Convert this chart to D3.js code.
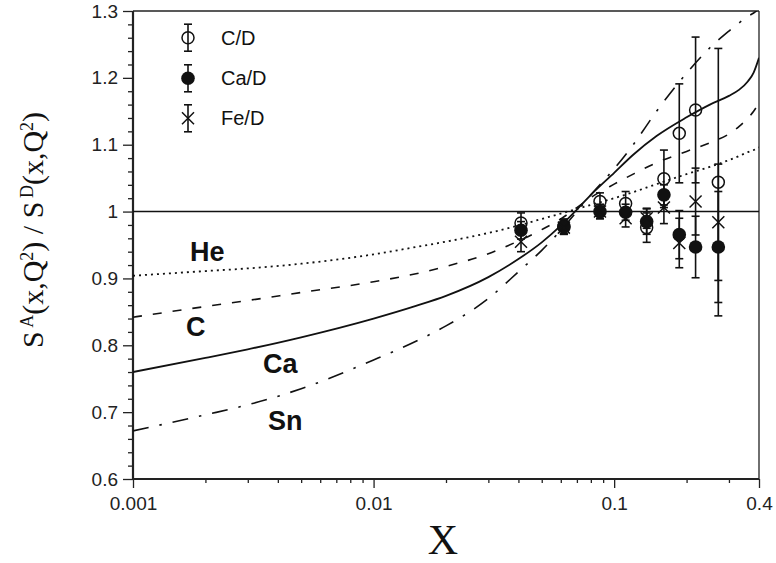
<!DOCTYPE html>
<html>
<head>
<meta charset="utf-8">
<script src="https://cdn.jsdelivr.net/npm/d3@7"></script>
<style>
  html, body { margin: 0; padding: 0; background: #fff; }
  svg { display: block; }
</style>
</head>
<body>
<svg id="chart" width="776" height="563"></svg>
<script>
// Model curves: nuclear ratio S^A/S^D versus x
const xGrid   = [0.001, 0.002, 0.003, 0.005, 0.01, 0.015, 0.02, 0.03, 0.04, 0.05, 0.06, 0.07, 0.08, 0.1, 0.12, 0.15, 0.2, 0.25, 0.3, 0.33, 0.36, 0.38, 0.4];
const curveHe = [0.904, 0.911, 0.915, 0.922, 0.936, 0.947, 0.955, 0.968, 0.979, 0.989, 0.997, 1.004, 1.010, 1.020, 1.029, 1.041, 1.056, 1.067, 1.077, 1.083, 1.089, 1.092, 1.096];
const curveC  = [0.842, 0.858, 0.867, 0.879, 0.895, 0.907, 0.918, 0.937, 0.956, 0.973, 0.989, 1.006, 1.021, 1.041, 1.056, 1.073, 1.090, 1.103, 1.116, 1.127, 1.140, 1.150, 1.163];
const curveCa = [0.760, 0.781, 0.794, 0.812, 0.840, 0.859, 0.874, 0.902, 0.929, 0.954, 0.979, 1.003, 1.025, 1.058, 1.085, 1.113, 1.141, 1.160, 1.173, 1.182, 1.195, 1.208, 1.230];
const curveSn = [0.672, 0.696, 0.711, 0.735, 0.778, 0.806, 0.829, 0.870, 0.910, 0.942, 0.972, 1.000, 1.025, 1.064, 1.100, 1.150, 1.207, 1.245, 1.270, 1.282, 1.292, 1.297, 1.303];

// Measured ratios with errors
const xData = [0.041, 0.0618, 0.0873, 0.1116, 0.1365, 0.161, 0.1865, 0.218, 0.271];
const cdVal = [0.983, 0.978, 1.015, 1.012, 0.976, 1.049, 1.117, 1.152, 1.044];
const cdErr = [0.015, 0.011, 0.013, 0.018, 0.022, 0.043, 0.074, 0.109, 0.200];
const caVal = [0.972, 0.977, 1.000, 0.999, 0.985, 1.025, 0.9655, 0.947, 0.947];
const caErr = [0.013, 0.011, 0.010, 0.012, 0.019, 0.015, 0.036, 0.046, 0.083];
const feVal = [0.955, 0.976, 1.000, 0.990, 0.990, 1.006, 0.953, 1.015, 0.984];
const feErr = [0.015, 0.010, 0.011, 0.013, 0.015, 0.024, 0.037, 0.050, 0.087];

// Axis ticks
const yTicks = [0.6, 0.7, 0.8, 0.9, 1.0, 1.1, 1.2, 1.3];
const yTickLabels = ["0.6", "0.7", "0.8", "0.9", "1", "1.1", "1.2", "1.3"];
const xTicks = [0.001, 0.01, 0.1, 0.4];
const xTickLabels = ["0.001", "0.01", "0.1", "0.4"];
const xMinorTicks = [0.002, 0.003, 0.004, 0.005, 0.006, 0.007, 0.008, 0.009,
                     0.02, 0.03, 0.04, 0.05, 0.06, 0.07, 0.08, 0.09, 0.2, 0.3];

const legendNames = ["C/D", "Ca/D", "Fe/D"];
const curveNames = ["He", "C", "Ca", "Sn"];

const svg = d3.select("#chart");
const L = 133, R = 759, T = 11, B = 479;

const x = d3.scaleLog().domain([0.001, 0.4]).range([L, R]);
const y = d3.scaleLinear().domain([0.6, 1.3]).range([B, T]);

const sans = "'Liberation Sans', Arial, sans-serif";
const serif = "'Liberation Serif', 'Times New Roman', serif";

svg.append("defs").append("clipPath").attr("id", "plotclip")
  .append("rect").attr("x", L).attr("y", T).attr("width", R - L).attr("height", B - T);

// Frame: top and right borders
svg.append("line").attr("x1", L).attr("x2", R).attr("y1", T).attr("y2", T)
  .attr("stroke", "#222").attr("stroke-width", 1.3);
svg.append("line").attr("x1", R).attr("x2", R).attr("y1", T).attr("y2", B)
  .attr("stroke", "#222").attr("stroke-width", 1.3);

// Left axis: major + minor ticks
const yMinor = d3.range(0.6, 1.3001, 0.02).filter(v => Math.abs(v * 10 - Math.round(v * 10)) > 1e-6);
const yAxisMinor = svg.append("g").attr("transform", `translate(${L},0)`)
  .call(d3.axisLeft(y).tickValues(yMinor).tickSize(5).tickFormat(""));
const yAxis = svg.append("g").attr("transform", `translate(${L},0)`)
  .call(d3.axisLeft(y).tickValues(yTicks).tickSize(10).tickPadding(5)
    .tickFormat((d, i) => yTickLabels[i]));

// Bottom axis: major + minor ticks
const xAxisMinor = svg.append("g").attr("transform", `translate(0,${B})`)
  .call(d3.axisBottom(x).tickValues(xMinorTicks).tickSize(4).tickFormat(""));
const xAxis = svg.append("g").attr("transform", `translate(0,${B})`)
  .call(d3.axisBottom(x).tickValues(xTicks).tickSize(9).tickPadding(9)
    .tickFormat((d, i) => xTickLabels[i]));

[yAxis, yAxisMinor, xAxis, xAxisMinor].forEach(g => {
  g.select(".domain").remove();
  g.selectAll(".tick line").attr("stroke", "#222").attr("stroke-width", 1.3);
  g.selectAll(".tick text").attr("fill", "#222").style("font-family", sans).style("font-size", "19px");
});

// Thick left and bottom axis lines
svg.append("line").attr("x1", L).attr("x2", L).attr("y1", T).attr("y2", B + 1)
  .attr("stroke", "#222").attr("stroke-width", 2.2);
svg.append("line").attr("x1", L - 1).attr("x2", R).attr("y1", B).attr("y2", B)
  .attr("stroke", "#222").attr("stroke-width", 2.2);

const plot = svg.append("g").attr("clip-path", "url(#plotclip)");

// Reference line at ratio 1
plot.append("line").attr("x1", L).attr("x2", R).attr("y1", y(1)).attr("y2", y(1))
  .attr("stroke", "#111").attr("stroke-width", 1.4);

// Model curves
const line = d3.line().x(d => x(d[0])).y(d => y(d[1])).curve(d3.curveMonotoneX);
const curves = [
  { vals: curveHe, dash: "2,4", w: 1.8 },
  { vals: curveC,  dash: "9,11", w: 1.6 },
  { vals: curveCa, dash: null, w: 1.8 },
  { vals: curveSn, dash: "16,11,2.5,11", w: 1.6 }
];
curves.forEach(c => {
  plot.append("path")
    .datum(xGrid.map((xv, i) => [xv, c.vals[i]]))
    .attr("d", line)
    .attr("fill", "none")
    .attr("stroke", "#111")
    .attr("stroke-width", c.w)
    .attr("stroke-dasharray", c.dash);
});

// Data: error bars then markers
const capW = 4;
function errorBars(vals, errs) {
  const g = plot.append("g").attr("stroke", "#111").attr("stroke-width", 1.6);
  xData.forEach((xv, i) => {
    const px = x(xv), lo = y(vals[i] - errs[i]), hi = y(vals[i] + errs[i]);
    g.append("line").attr("x1", px).attr("x2", px).attr("y1", lo).attr("y2", hi);
    g.append("line").attr("x1", px - capW).attr("x2", px + capW).attr("y1", lo).attr("y2", lo);
    g.append("line").attr("x1", px - capW).attr("x2", px + capW).attr("y1", hi).attr("y2", hi);
  });
}
errorBars(cdVal, cdErr);
errorBars(caVal, caErr);
errorBars(feVal, feErr);

function openCircle(g, px, py) {
  g.append("circle").attr("cx", px).attr("cy", py).attr("r", 6)
    .attr("fill", "none").attr("stroke", "#111").attr("stroke-width", 1.5);
}
function filledCircle(g, px, py) {
  g.append("circle").attr("cx", px).attr("cy", py).attr("r", 6.8).attr("fill", "#111");
}
function cross(g, px, py) {
  const s = 6;
  g.append("path").attr("d", `M${px - s},${py - s}L${px + s},${py + s}M${px - s},${py + s}L${px + s},${py - s}`)
    .attr("stroke", "#111").attr("stroke-width", 1.5);
}
const marks = plot.append("g");
xData.forEach((xv, i) => openCircle(marks, x(xv), y(cdVal[i])));
xData.forEach((xv, i) => filledCircle(marks, x(xv), y(caVal[i])));
xData.forEach((xv, i) => cross(marks, x(xv), y(feVal[i])));

// Legend
const legY = [37.7, 78.3, 118.3];
const legX = 188;
const legend = svg.append("g");
const markFns = [openCircle, filledCircle, cross];
legendNames.forEach((name, i) => {
  const cy = legY[i];
  const g = legend.append("g");
  g.append("line").attr("x1", legX).attr("x2", legX).attr("y1", cy - 13.5).attr("y2", cy + 13.5)
    .attr("stroke", "#111").attr("stroke-width", 1.6);
  [cy - 13.5, cy + 13.5].forEach(yy =>
    g.append("line").attr("x1", legX - capW).attr("x2", legX + capW).attr("y1", yy).attr("y2", yy)
      .attr("stroke", "#111").attr("stroke-width", 1.6));
  markFns[i](g, legX, cy);
  g.append("text").attr("x", 221).attr("y", cy + 7)
    .style("font-family", sans).style("font-size", "20px").attr("fill", "#111")
    .text(name);
});

// Curve labels
const curveLabelPos = [[190, 261], [186, 336], [263, 373], [268, 430]];
curveNames.forEach((n, i) => {
  svg.append("text").attr("x", curveLabelPos[i][0]).attr("y", curveLabelPos[i][1])
    .style("font-family", sans).style("font-size", "27px").style("font-weight", "bold")
    .attr("fill", "#111").text(n);
});

// Axis titles
svg.append("text").attr("x", 443).attr("y", 554).attr("text-anchor", "middle")
  .style("font-family", serif).style("font-size", "42px").attr("fill", "#111").text("X");

const yt = svg.append("text")
  .attr("transform", "translate(43,230) rotate(-90)")
  .attr("text-anchor", "middle")
  .style("font-family", serif).style("font-size", "30px").attr("fill", "#111");
function seg(t, sup) {
  if (sup) yt.append("tspan").attr("baseline-shift", "super").style("font-size", "18px").text(t);
  else yt.append("tspan").text(t);
}
seg("S"); seg("\u2009A", true); seg("(x,Q"); seg("2", true); seg(") / S"); seg("\u2009D", true); seg("(x,Q"); seg("2", true); seg(")");
</script>
</body>
</html>
